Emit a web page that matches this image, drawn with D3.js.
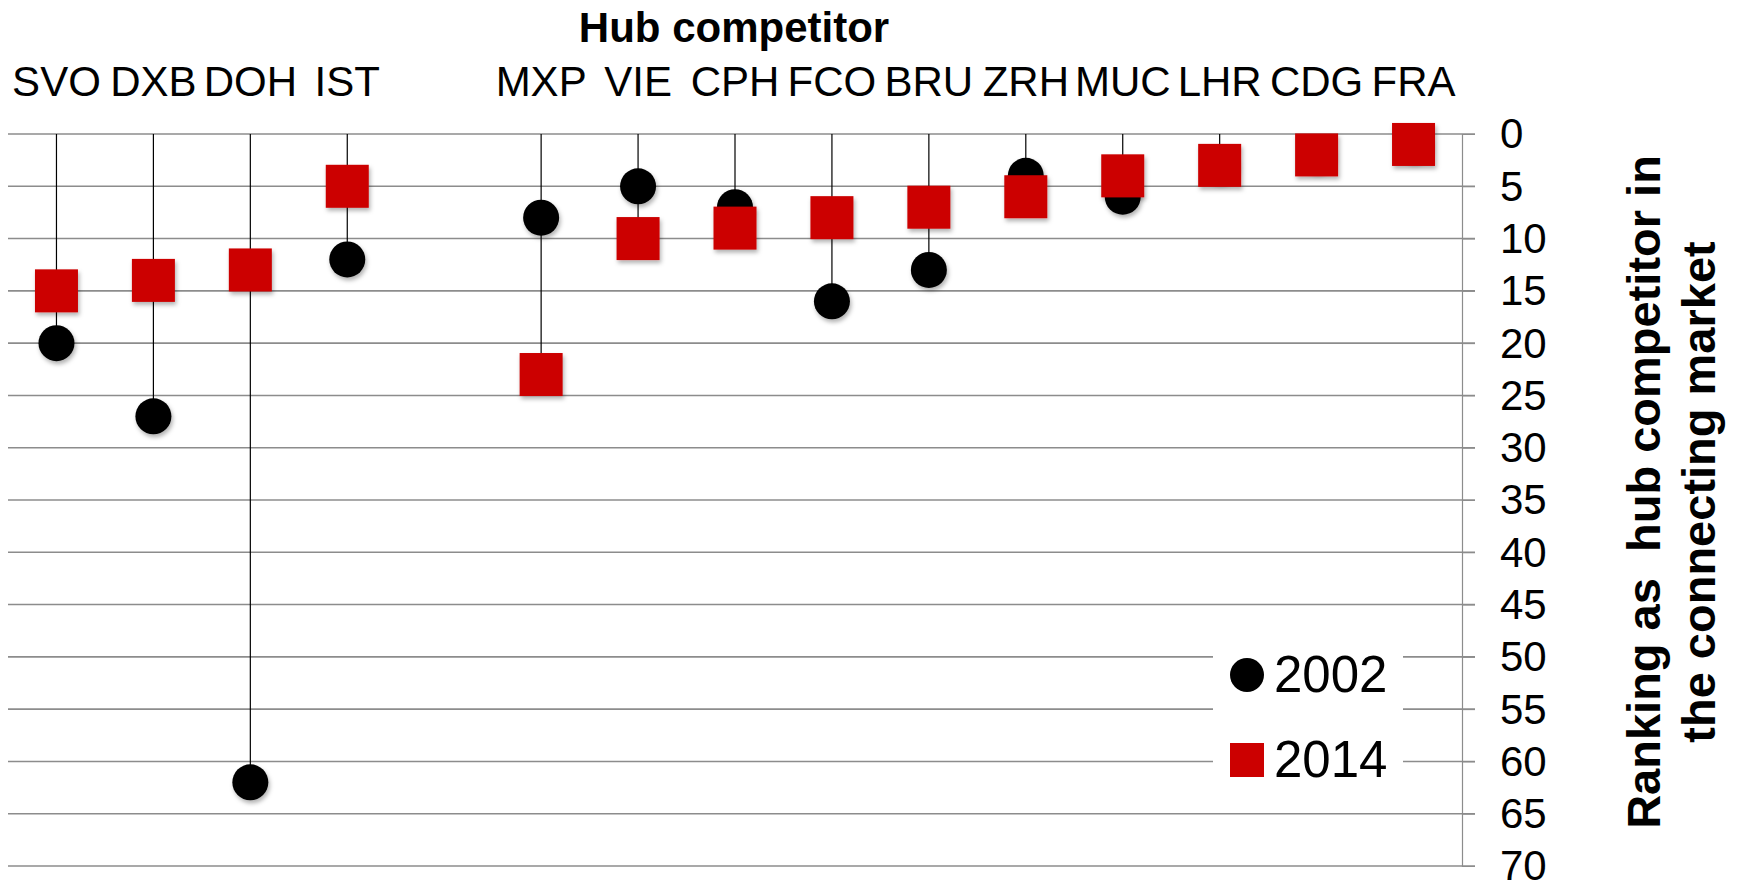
<!DOCTYPE html>
<html>
<head>
<meta charset="utf-8">
<script src="https://cdn.jsdelivr.net/npm/d3@7"></script>
<style>
  body { margin: 0; background: #fff; }
  text { font-family: "Liberation Sans", Arial, sans-serif; }
</style>
</head>
<body>
<svg id="chart" width="1737" height="883"></svg>
<script>
// hub codes, "" is the empty slot between IST and MXP
const categories = ["SVO", "DXB", "DOH", "IST", "", "MXP", "VIE", "CPH", "FCO", "BRU", "ZRH", "MUC", "LHR", "CDG", "FRA"];
const rank2002 = [20, 27, 62, 12, null, 8, 5, 7, 16, 13, 4, 6, 3, 2, 1];
const rank2014 = [15, 14, 13, 5, null, 23, 10, 9, 8, 7, 6, 4, 3, 2, 1];
const rankTicks = [0, 5, 10, 15, 20, 25, 30, 35, 40, 45, 50, 55, 60, 65, 70];
const seriesNames = ["2002", "2014"];

const red = "#cc0000";
const gridColor = "#8c8c8c";

const svg = d3.select("#chart");

const x = d3.scaleBand()
  .domain(categories)
  .range([8, 1462])
  .padding(0);

const y = d3.scaleLinear()
  .domain([0, 70])
  .range([134, 866]);

const cx = c => x(c) + x.bandwidth() / 2;

// soft shadow under the markers
const defs = svg.append("defs");
const shadow = defs.append("filter")
  .attr("id", "shadow")
  .attr("x", "-30%").attr("y", "-30%")
  .attr("width", "160%").attr("height", "160%");
shadow.append("feDropShadow")
  .attr("dx", 1.5)
  .attr("dy", 3)
  .attr("stdDeviation", 2)
  .attr("flood-color", "#000")
  .attr("flood-opacity", 0.3);

// gridlines
svg.append("g")
  .selectAll("line")
  .data(rankTicks)
  .join("line")
  .attr("x1", 8)
  .attr("x2", 1475)
  .attr("y1", d => y(d))
  .attr("y2", d => y(d))
  .attr("stroke", gridColor)
  .attr("stroke-width", 1.6);

// right value axis
const yAxis = svg.append("g")
  .attr("transform", "translate(1462,0)")
  .call(d3.axisRight(y).tickValues(rankTicks).tickSize(13).tickPadding(25));
yAxis.select(".domain").attr("stroke", gridColor).attr("stroke-width", 1.2);
yAxis.selectAll(".tick line").attr("stroke", gridColor);
yAxis.selectAll("text")
  .attr("font-size", 42)
  .attr("fill", "#000")
  .attr("dy", "0.33em");

// category labels on top
const xAxis = svg.append("g")
  .attr("transform", "translate(0,96)")
  .call(d3.axisTop(x).tickSize(0).tickPadding(0));
xAxis.select(".domain").remove();
xAxis.selectAll("text")
  .attr("font-size", 42)
  .attr("fill", "#000");

svg.append("text")
  .attr("x", 734)
  .attr("y", 42)
  .attr("text-anchor", "middle")
  .attr("font-size", 42)
  .attr("font-weight", "bold")
  .text("Hub competitor");

// right axis title, two lines
const titleLines = ["Ranking as  hub competitor in", "the connecting market"];
svg.append("g")
  .selectAll("text")
  .data(titleLines)
  .join("text")
  .attr("transform", (d, i) => `translate(${1660 + i * 55},492) rotate(-90)`)
  .attr("text-anchor", "middle")
  .attr("font-size", 47)
  .attr("font-weight", "bold")
  .style("white-space", "pre")
  .attr("xml:space", "preserve")
  .text(d => d);

// drop lines from the top axis to each point
const rows = categories.map((c, i) => ({ c, a: rank2002[i], b: rank2014[i] }))
  .filter(d => d.c !== "");

svg.append("g")
  .selectAll("line")
  .data(rows)
  .join("line")
  .attr("x1", d => cx(d.c))
  .attr("x2", d => cx(d.c))
  .attr("y1", y(0))
  .attr("y2", d => y(Math.max(d.a, d.b)))
  .attr("stroke", "#000")
  .attr("stroke-width", 1.2);

// 2002 circles
svg.append("g")
  .attr("filter", "url(#shadow)")
  .selectAll("circle")
  .data(rows)
  .join("circle")
  .attr("cx", d => cx(d.c))
  .attr("cy", d => y(d.a))
  .attr("r", 18)
  .attr("fill", "#000");

// 2014 squares
const sq = 43;
svg.append("g")
  .attr("filter", "url(#shadow)")
  .selectAll("rect")
  .data(rows)
  .join("rect")
  .attr("x", d => cx(d.c) - sq / 2)
  .attr("y", d => y(d.b) - sq / 2)
  .attr("width", sq)
  .attr("height", sq)
  .attr("fill", red);

// legend
const legend = svg.append("g");
legend.append("rect")
  .attr("x", 1213)
  .attr("y", 625)
  .attr("width", 190)
  .attr("height", 175)
  .attr("fill", "#fff");

const legendItems = legend.selectAll("g")
  .data(seriesNames)
  .join("g")
  .attr("transform", (d, i) => `translate(1247,${675 + i * 85})`);

legendItems.filter((d, i) => i === 0)
  .append("circle")
  .attr("r", 17)
  .attr("fill", "#000");
legendItems.filter((d, i) => i === 1)
  .append("rect")
  .attr("x", -17).attr("y", -17)
  .attr("width", 34).attr("height", 34)
  .attr("fill", red);

legendItems.append("text")
  .attr("x", 27)
  .attr("y", 17)
  .attr("font-size", 51)
  .text(d => d);
</script>
</body>
</html>
